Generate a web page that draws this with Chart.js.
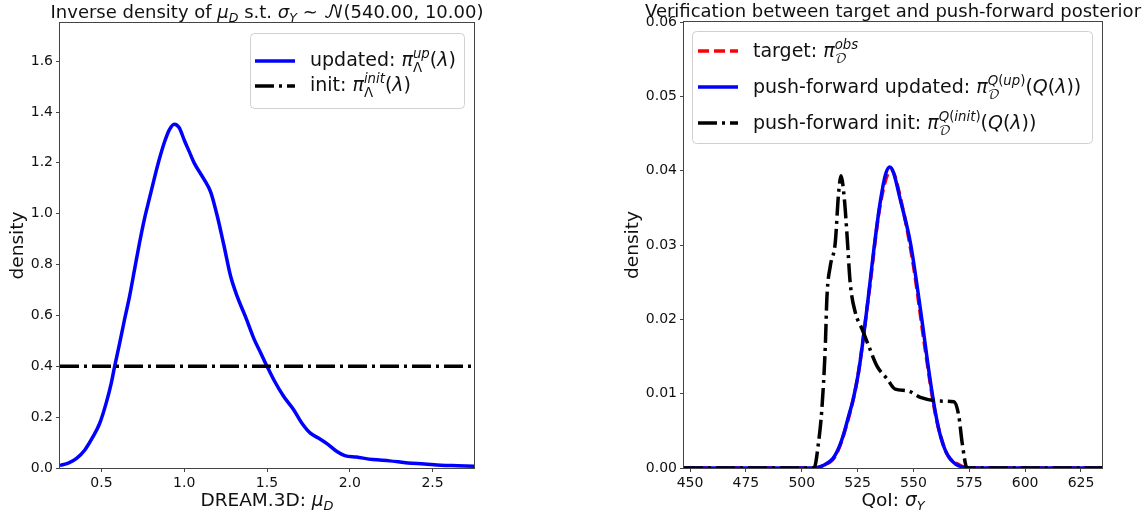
<!DOCTYPE html>
<html>
<head>
<meta charset="utf-8">
<script src="https://cdn.jsdelivr.net/npm/chart.js"></script>
<style>
  body { margin: 0; background: #fff; }
  #wrap { position: relative; width: 1148px; height: 520px; }
  canvas { position: absolute; top: 0; }
</style>
</head>
<body>
<div id="wrap">
  <canvas id="chart-mu" width="574" height="520" style="left:0"></canvas>
  <canvas id="chart-qoi" width="574" height="520" style="left:574px"></canvas>
</div>
<script>
// left panel: inverse density of mu_D
const muX = [0.25, 0.30, 0.35, 0.40, 0.45, 0.49, 0.53, 0.56, 0.58, 0.61, 0.64, 0.67, 0.70, 0.73, 0.76, 0.79,
  0.82, 0.85, 0.88, 0.91, 0.94, 0.97, 1.00, 1.03, 1.06, 1.12, 1.16, 1.20, 1.24, 1.28, 1.32, 1.37, 1.42,
  1.46, 1.50, 1.54, 1.60, 1.66, 1.71, 1.76, 1.81, 1.87, 1.92, 1.97, 2.04, 2.14, 2.24, 2.35, 2.45, 2.55, 2.65, 2.75]
const updatedY = [0.010, 0.019, 0.038, 0.071, 0.124, 0.176, 0.258, 0.335, 0.400, 0.490, 0.585, 0.675, 0.780, 0.885, 0.980, 1.060,
  1.140, 1.215, 1.280, 1.330, 1.352, 1.338, 1.290, 1.245, 1.200, 1.135, 1.085, 0.990, 0.875, 0.755, 0.675, 0.595, 0.510,
  0.455, 0.400, 0.348, 0.282, 0.230, 0.177, 0.138, 0.118, 0.092, 0.066, 0.049, 0.043, 0.033, 0.028, 0.020, 0.016, 0.011, 0.009, 0.007]
const initMuX = [0.25, 2.75]
const initMuY = [0.4, 0.4]
const muTicks = [0.5, 1.0, 1.5, 2.0, 2.5]
const densTicksL = [0.0, 0.2, 0.4, 0.6, 0.8, 1.0, 1.2, 1.4, 1.6]

// right panel: push-forward check on sigma_Y
const targetX = [447.3, 505, 510, 515, 520, 525, 530, 535, 540, 545, 550, 555, 560, 565, 570, 575, 634.4]
const targetY = [0, 0, 0.0004, 0.0016, 0.0057, 0.0122, 0.0233, 0.0352, 0.0401, 0.0352, 0.0272, 0.0165, 0.0070, 0.0019, 0.0005, 0, 0]
const pushUpX = [447.3, 506, 510, 514, 517, 519, 521, 523, 525.5, 527.7, 530, 532.2, 535.2, 537.5, 539.4, 541,
  544.2, 548.7, 553.1, 557.6, 560, 562.1, 564.5, 566.6, 569, 572.4, 575, 634.4]
const pushUpY = [0, 0, 0.0004, 0.0013, 0.0030, 0.0048, 0.0070, 0.0092, 0.0130, 0.0178, 0.0235, 0.0292, 0.0359, 0.0395, 0.0405, 0.0398,
  0.0360, 0.0302, 0.0214, 0.0116, 0.0072, 0.0043, 0.0022, 0.0012, 0.0005, 0.0001, 0, 0]
const pushInitX = [447.3, 505.5, 507.5, 509, 510.5, 511.3, 512.8, 515, 516.5, 517.6, 519.1, 520.3, 521.7, 524, 527, 530,
  533.7, 538.2, 541.9, 547.2, 553.1, 562.1, 568.1, 570.3, 571.8, 574, 634.4]
const pushInitY = [0, 0, 0.0034, 0.0079, 0.0160, 0.0231, 0.0272, 0.0303, 0.0370, 0.0393, 0.0361, 0.0312, 0.0249, 0.0209, 0.0187, 0.0164,
  0.0137, 0.0120, 0.0106, 0.0104, 0.0095, 0.0090, 0.0089, 0.0070, 0.0034, 0, 0]
const qoiTicks = [450, 475, 500, 525, 550, 575, 600, 625]
const densTicksR = [0.00, 0.01, 0.02, 0.03, 0.04, 0.05, 0.06]

const FONT = '"DejaVu Sans", "DejaVu Math TeX Gyre", "Noto Sans", sans-serif'
const DASHED = [11, 5]
const DASHDOT = [19, 5, 3, 5]

const pts = (xs, ys) => xs.map((x, i) => ({x: x, y: ys[i]}))

// tiny mathtext: [text, flags]  i=italic s=sub S=sup k=sub stacked under following sup
function rich(ctx, parts, size, x0, y0, draw) {
  let x = x0, stack = null
  for (const [t, f = ''] of parts) {
    const sub = f.includes('s'), sup = f.includes('S')
    if (stack !== null && !sup) { x = Math.max(x, stack); stack = null }
    const fs = (sub || sup) ? size * 0.7 : size
    ctx.font = (f.includes('i') ? 'italic ' : '') + fs + 'px ' + FONT
    const w = ctx.measureText(t).width
    const dy = sub ? size * (f.includes('k') ? 0.3 : 0.22) : sup ? -size * 0.42 : 0
    if (draw) ctx.fillText(t, x, y0 + dy)
    if (f.includes('k')) stack = x + w
    else x += w
  }
  if (stack !== null) x = Math.max(x, stack)
  return x - x0
}

function decor(d) {
  return {
    id: 'decor',
    afterDatasetsDraw(chart) {
      const ctx = chart.ctx, a = chart.chartArea
      ctx.save()
      // frame
      ctx.strokeStyle = '#444'
      ctx.lineWidth = 1
      ctx.setLineDash([])
      ctx.strokeRect(Math.round(a.left) - 0.5, Math.round(a.top) - 0.5, Math.round(a.right - a.left) + 1, Math.round(a.bottom - a.top) + 1)
      ctx.fillStyle = '#111'
      ctx.textBaseline = 'alphabetic'
      // title + x label
      const cx = (a.left + a.right) / 2
      let w = rich(ctx, d.title, 18, 0, 0, false)
      rich(ctx, d.title, 18, cx - w / 2, d.titleY, true)
      w = rich(ctx, d.xlabel, 18.5, 0, 0, false)
      rich(ctx, d.xlabel, 18.5, cx - w / 2, 506, true)
      // legend
      const L = d.legend
      ctx.beginPath()
      ctx.roundRect(L.x + 0.5, L.y + 0.5, L.w, L.h, 4)
      ctx.fillStyle = 'rgba(255,255,255,0.8)'
      ctx.fill()
      ctx.strokeStyle = '#d0d0d0'
      ctx.stroke()
      L.rows.forEach(r => {
        ctx.beginPath()
        ctx.setLineDash(r.dash)
        ctx.strokeStyle = r.color
        ctx.lineWidth = 3.5
        ctx.lineCap = 'butt'
        ctx.moveTo(L.x + L.hx, r.y)
        ctx.lineTo(L.x + L.hx + 40, r.y)
        ctx.stroke()
        ctx.setLineDash([])
        ctx.fillStyle = '#111'
        rich(ctx, r.label, 19, L.x + L.tx, r.y + L.ty, true)
      })
      ctx.restore()
    }
  }
}

function axes(o) {
  const tickFont = {family: FONT, size: 14}
  return {
    x: {
      type: 'linear', min: o.xmin, max: o.xmax,
      afterFit: s => { s.height = 52 },
      afterBuildTicks: s => { s.ticks = o.xticks.map(v => ({value: v})) },
      ticks: {font: tickFont, color: '#111', padding: 3, maxRotation: 0, autoSkip: false, callback: o.xfmt},
      grid: {drawOnChartArea: false, drawTicks: true, tickLength: 4, color: '#444'},
      border: {display: false}
    },
    y: {
      type: 'linear', min: o.ymin, max: o.ymax,
      afterFit: s => { s.width = o.yw },
      afterBuildTicks: s => { s.ticks = o.yticks.map(v => ({value: v})) },
      ticks: {font: tickFont, color: '#111', padding: 3, autoSkip: false, callback: o.yfmt},
      grid: {drawOnChartArea: false, drawTicks: true, tickLength: 4, color: '#444'},
      border: {display: false},
      title: {display: true, text: 'density', color: '#111', font: {family: FONT, size: 18.5}, padding: {top: o.ytpad, bottom: 0}}
    }
  }
}

function line(data, color, dash, order) {
  return {
    data: data, borderColor: color, backgroundColor: color, borderWidth: 3.5, borderDash: dash,
    pointRadius: 0, fill: false, cubicInterpolationMode: 'monotone', borderJoinStyle: 'round', order: order
  }
}

const commonOpts = {responsive: false, animation: false, events: [],
  plugins: {legend: {display: false}, tooltip: {enabled: false}}}

new Chart(document.getElementById('chart-mu').getContext('2d'), {
  type: 'line',
  data: {datasets: [
    line(pts(muX, updatedY), '#0000ff', [], 2),
    line(pts(initMuX, initMuY), '#000000', DASHDOT, 1)
  ]},
  options: Object.assign({}, commonOpts, {
    layout: {padding: {left: 0, top: 23, right: 100, bottom: 0}},
    scales: axes({xmin: 0.25, xmax: 2.75, xticks: muTicks, xfmt: v => v.toFixed(1),
      ymin: 0, ymax: 1.75, yticks: densTicksL, yfmt: v => v.toFixed(1), yw: 60, ytpad: 7})
  }),
  plugins: [decor({
    titleY: 18,
    title: [['Inverse density of '], ['μ', 'i'], ['D', 'is'], [' s.t. '], ['σ', 'i'], ['Y', 'is'], [' ∼ '], ['𝒩'], ['(540.00, 10.00)']],
    xlabel: [['DREAM.3D: '], ['μ', 'i'], ['D', 'is']],
    legend: {x: 250, y: 33, w: 214, h: 75, hx: 5, tx: 60, ty: 5, rows: [
      {y: 61, color: '#0000ff', dash: [], label: [['updated: '], ['π', 'i'], ['Λ', 'sk'], ['up', 'iS'], ['('], ['λ', 'i'], [')']]},
      {y: 86, color: '#000000', dash: DASHDOT, label: [['init: '], ['π', 'i'], ['Λ', 'sk'], ['init', 'iS'], ['('], ['λ', 'i'], [')']]}
    ]}
  })]
})

new Chart(document.getElementById('chart-qoi').getContext('2d'), {
  type: 'line',
  data: {datasets: [
    line(pts(targetX, targetY), '#ff0000', DASHED, 3),
    line(pts(pushUpX, pushUpY), '#0000ff', [], 2),
    line(pts(pushInitX, pushInitY), '#000000', DASHDOT, 1)
  ]},
  options: Object.assign({}, commonOpts, {
    layout: {padding: {left: 0, top: 22, right: 46, bottom: 0}},
    scales: axes({xmin: 447.3, xmax: 634.4, xticks: qoiTicks, xfmt: v => String(v),
      ymin: 0, ymax: 0.06, yticks: densTicksR, yfmt: v => v.toFixed(2), yw: 110, ytpad: 48})
  }),
  plugins: [decor({
    titleY: 17,
    title: [['Verification between target and push-forward posterior']],
    xlabel: [['QoI: '], ['σ', 'i'], ['Y', 'is']],
    legend: {x: 118, y: 31, w: 400, h: 112, hx: 6, tx: 61, ty: 6, rows: [
      {y: 51, color: '#ff0000', dash: DASHED, label: [['target: '], ['π', 'i'], ['𝒟', 'sk'], ['obs', 'iS']]},
      {y: 87, color: '#0000ff', dash: [], label: [['push-forward updated: '], ['π', 'i'], ['𝒟', 'sk'], ['Q', 'iS'], ['(', 'S'], ['up', 'iS'], [')', 'S'], ['('], ['Q', 'i'], ['('], ['λ', 'i'], ['))']]},
      {y: 123, color: '#000000', dash: DASHDOT, label: [['push-forward init: '], ['π', 'i'], ['𝒟', 'sk'], ['Q', 'iS'], ['(', 'S'], ['init', 'iS'], [')', 'S'], ['('], ['Q', 'i'], ['('], ['λ', 'i'], ['))']]}
    ]}
  })]
})
</script>
</body>
</html>
